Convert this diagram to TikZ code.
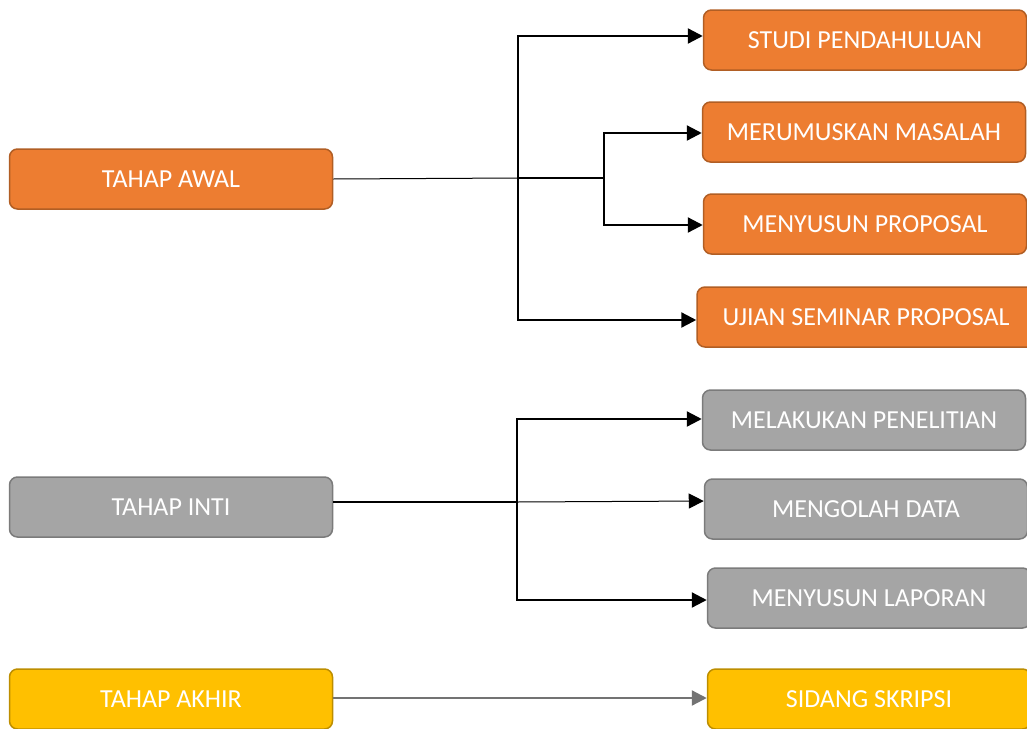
\documentclass[tikz,border=0pt]{standalone}
\usepackage{fontspec}
\setmainfont{Carlito}
\usetikzlibrary{arrows.meta}

\definecolor{oranye}{HTML}{ED7D31}
\definecolor{oranyetepi}{HTML}{B15E24}
\definecolor{abu}{HTML}{A5A5A5}
\definecolor{abutepi}{HTML}{7B7B7B}
\definecolor{kuning}{HTML}{FFC000}
\definecolor{kuningtepi}{HTML}{BD8E00}

\tikzset{
    tahap/.style={draw, line width=1.5pt, rounded corners=8pt, minimum width=323pt, minimum height=60pt,
        inner sep=0pt, text=white, font=\fontsize{26}{30}\selectfont},
    jingga/.style={tahap, fill=oranye, draw=oranyetepi},
    kelabu/.style={tahap, fill=abu, draw=abutepi},
    emas/.style={tahap, fill=kuning, draw=kuningtepi},
    panah/.style={-{Triangle[length=15pt,width=15pt]}, line width=2.3pt},
    garis/.style={line width=2.3pt}
}

\begin{document}
\begin{tikzpicture}[x=1pt, y=-1pt]
    \useasboundingbox (0,0) rectangle (1027,728);

    % Tahap awal
    \node[jingga] (awal) at (171,179) {TAHAP AWAL};
    \node[jingga] (studi) at (865,40) {STUDI PENDAHULUAN};
    \node[jingga] (rumus) at (864,132) {MERUMUSKAN MASALAH};
    \node[jingga] (susun) at (865,224) {MENYUSUN PROPOSAL};
    \node[jingga, minimum width=340pt] (ujian) at (867,317) {\hspace*{-2pt}UJIAN SEMINAR PROPOSAL};

    \coordinate (cabangA) at (518,178);
    \coordinate (cabangB) at (604,178);
    \draw[line width=1pt] (awal.east) -- (cabangA);
    \draw[garis] (cabangA) -- (cabangB);
    \draw[panah] (cabangA) |- (studi.west |- 0,36);
    \draw[panah] (cabangA) |- (ujian.west |- 0,320);
    \draw[panah] (cabangB) |- (rumus.west |- 0,133);
    \draw[panah] (cabangB) |- (susun.west |- 0,225);

    % Tahap inti
    \node[kelabu] (inti) at (171,507) {TAHAP INTI};
    \node[kelabu] (teliti) at (864,420) {MELAKUKAN PENELITIAN};
    \node[kelabu] (olah) at (866,509) {MENGOLAH DATA};
    \node[kelabu] (lapor) at (869,598) {MENYUSUN LAPORAN};

    \coordinate (cabangC) at (517,502);
    \draw[garis] (inti.east |- cabangC) -- (cabangC);
    \draw[panah] (cabangC) |- (teliti.west |- 0,419);
    \draw[panah, line width=1pt] (cabangC) -- (olah.west |- 0,501);
    \draw[panah] (cabangC) |- (lapor.west |- 0,600);

    % Tahap akhir
    \node[emas] (akhir) at (171,699) {TAHAP AKHIR};
    \node[emas] (sidang) at (869,699) {SIDANG SKRIPSI};
    \draw[panah, draw=black!55] (akhir.east |- 0,698) -- (sidang.west |- 0,698);
\end{tikzpicture}
\end{document}
